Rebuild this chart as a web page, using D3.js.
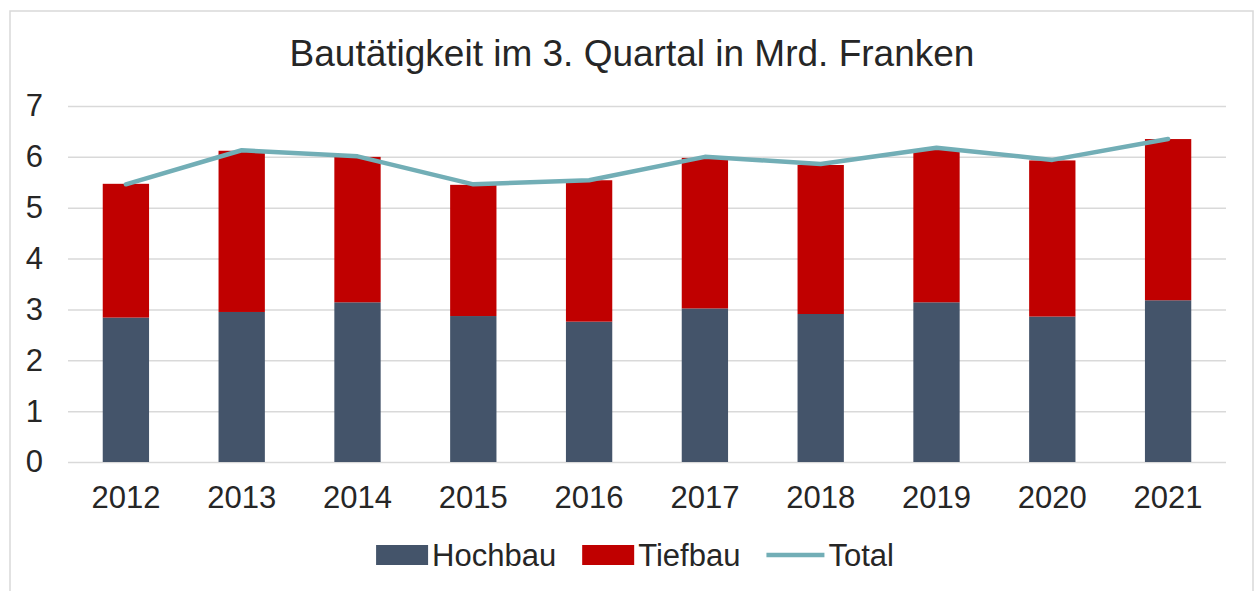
<!DOCTYPE html>
<html>
<head>
<meta charset="utf-8">
<script src="https://cdn.jsdelivr.net/npm/d3@7"></script>
<style>
  body { margin: 0; background: #fff; }
  text { font-family: "Liberation Sans", Arial, sans-serif; fill: #262626; }
</style>
</head>
<body>
<svg id="chart" width="1256" height="591"></svg>
<script>
const years = ["2012", "2013", "2014", "2015", "2016", "2017", "2018", "2019", "2020", "2021"]
const hochbau = [2.84, 2.95, 3.14, 2.87, 2.76, 3.02, 2.91, 3.14, 2.86, 3.18]
const tiefbau = [2.63, 3.17, 2.86, 2.58, 2.78, 2.96, 2.93, 3.01, 3.07, 3.17]
const total = [5.46, 6.13, 6.01, 5.46, 5.54, 6.00, 5.86, 6.18, 5.94, 6.35]
const yTicks = [0, 1, 2, 3, 4, 5, 6, 7]

const colors = { Hochbau: "#44546A", Tiefbau: "#C00000", Total: "#72AEB6" }

const svg = d3.select("#chart")
const plot = { left: 68, right: 1226, top: 106, bottom: 462 }

// outer frame of the chart
svg.append("rect")
    .attr("x", 10).attr("y", 11)
    .attr("width", 1243).attr("height", 600)
    .attr("fill", "#fff")
    .attr("stroke", "#d9d9d9")
    .attr("stroke-width", 1.5)

svg.append("text")
    .attr("x", 632).attr("y", 66)
    .attr("text-anchor", "middle")
    .style("font-size", "37px")
    .text("Bautätigkeit im 3. Quartal in Mrd. Franken")

const x = d3.scaleBand()
    .domain(years)
    .range([plot.left, plot.right])
    .paddingInner(0.6)
    .paddingOuter(0.3)

const y = d3.scaleLinear()
    .domain([0, 7])
    .range([plot.bottom, plot.top])

// gridlines + y labels
const yAxis = svg.append("g")
    .attr("transform", `translate(${plot.left},0)`)
    .call(d3.axisLeft(y).tickValues(yTicks).tickFormat(d3.format("d"))
        .tickSize(-(plot.right - plot.left)).tickPadding(25))
yAxis.select(".domain").remove()
yAxis.selectAll(".tick line").attr("stroke", "#d9d9d9").attr("stroke-width", 1.5)
yAxis.selectAll(".tick text")
    .style("font-size", "31px")
    .style("font-family", "Liberation Sans, Arial, sans-serif")
    .attr("fill", "#262626")

const xAxis = svg.append("g")
    .attr("transform", `translate(0,${plot.bottom})`)
    .call(d3.axisBottom(x).tickSize(0).tickPadding(24))
xAxis.select(".domain").remove()
xAxis.selectAll(".tick text")
    .style("font-size", "31px")
    .style("font-family", "Liberation Sans, Arial, sans-serif")
    .attr("fill", "#262626")

// stacked bars
const rows = years.map((yr, i) => ({ year: yr, Hochbau: hochbau[i], Tiefbau: tiefbau[i] }))
const stack = d3.stack().keys(["Hochbau", "Tiefbau"])(rows)

svg.append("g")
    .selectAll("g")
    .data(stack)
    .enter()
    .append("g")
    .attr("fill", d => colors[d.key])
    .selectAll("rect")
    .data(d => d)
    .enter()
    .append("rect")
    .attr("x", d => x(d.data.year))
    .attr("y", d => y(d[1]))
    .attr("width", x.bandwidth())
    .attr("height", d => y(d[0]) - y(d[1]))

// total line
const line = d3.line()
    .x((d, i) => x(years[i]) + x.bandwidth() / 2)
    .y(d => y(d))

svg.append("path")
    .datum(total)
    .attr("d", line)
    .attr("fill", "none")
    .attr("stroke", colors.Total)
    .attr("stroke-width", 4.5)
    .attr("stroke-linejoin", "round")
    .attr("stroke-linecap", "round")

// legend
const legendItems = ["Hochbau", "Tiefbau", "Total"]
const legend = svg.append("g")
let lx = 0
legendItems.forEach(name => {
    const g = legend.append("g").attr("transform", `translate(${lx},0)`)
    if (name === "Total") {
        g.append("line")
            .attr("x1", 0).attr("x2", 58)
            .attr("y1", 0).attr("y2", 0)
            .attr("stroke", colors.Total)
            .attr("stroke-width", 4.5)
    } else {
        g.append("rect")
            .attr("x", 0).attr("y", -10)
            .attr("width", 52).attr("height", 20)
            .attr("fill", colors[name])
    }
    const t = g.append("text")
        .attr("x", name === "Total" ? 62 : 56)
        .attr("y", 11)
        .style("font-size", "31px")
        .text(name)
    lx += (name === "Total" ? 62 : 56) + t.node().getComputedTextLength() + 26
})
const legendWidth = lx - 26
legend.attr("transform", `translate(${635 - legendWidth / 2},555)`)
</script>
</body>
</html>
